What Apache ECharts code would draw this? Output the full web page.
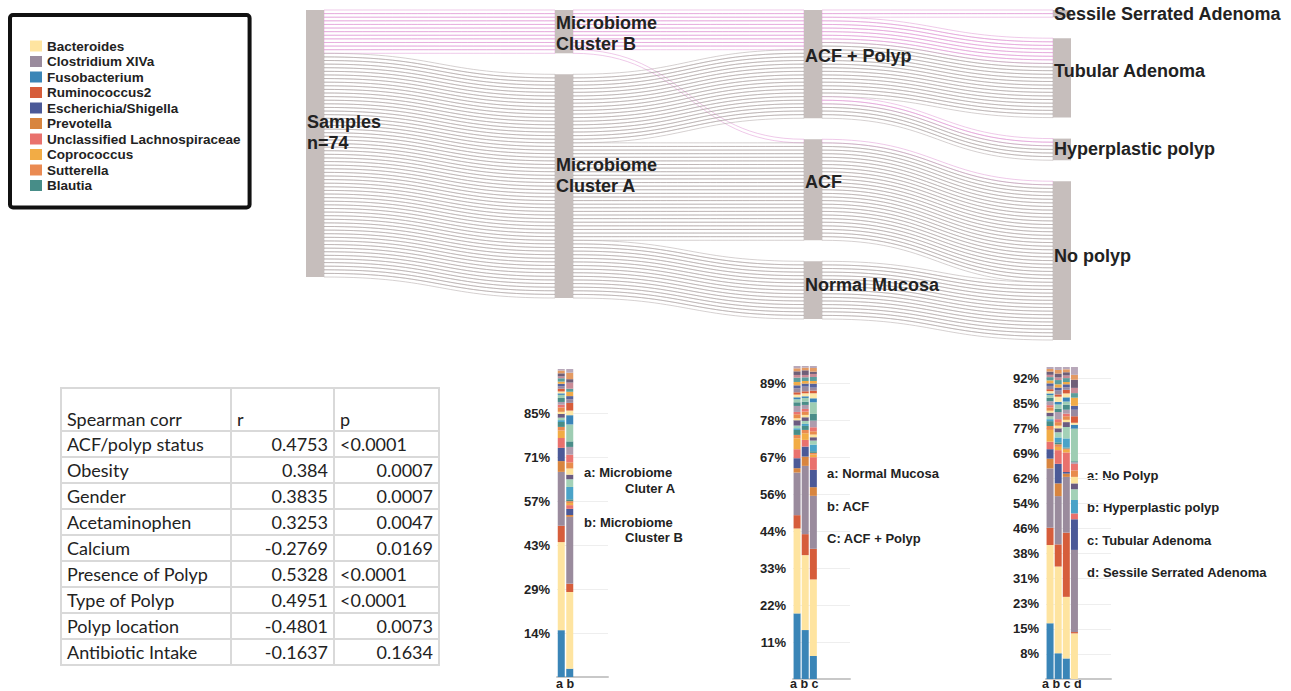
<!DOCTYPE html>
<html>
<head>
<meta charset="utf-8">
<script src="https://cdn.jsdelivr.net/npm/echarts@6/dist/echarts.min.js"></script>
<style>
html, body { margin: 0; padding: 0; background: #fff; }
#chart { position: absolute; left: 0; top: 0; width: 1291px; height: 691px; }
#corr { position: absolute; left: 60px; top: 387px; border-collapse: collapse; table-layout: fixed;
        font-family: Lato, "Open Sans", sans-serif; font-size: 18px; color: #222; }
#corr td { border: 2px solid #d9d9d9; height: 24px; padding: 0 5px; line-height: 22px; white-space: nowrap; overflow: hidden; }
#corr tr.head td { height: 41px; vertical-align: bottom; }
#corr td.num { text-align: right; }
</style>
</head>
<body>
<div id="chart"></div>
<table id="corr"></table>
<script>
// ---- sankey : one link per sample, followed through the stages ----
var stageNodes = ['Samples\nn=74', 'Microbiome\nCluster B', 'Microbiome\nCluster A',
	'ACF + Polyp', 'ACF', 'Normal Mucosa',
	'Sessile Serrated Adenoma', 'Tubular Adenoma', 'Hyperplastic polyp', 'No polyp'];
var pathCluster = ['Microbiome\nCluster B', 'Microbiome\nCluster B', 'Microbiome\nCluster B', 'Microbiome\nCluster B',
	'Microbiome\nCluster A', 'Microbiome\nCluster A', 'Microbiome\nCluster A', 'Microbiome\nCluster A'];
var pathTissue = ['ACF + Polyp', 'ACF + Polyp', 'ACF + Polyp', 'ACF', 'ACF + Polyp', 'ACF + Polyp', 'ACF', 'Normal Mucosa'];
var pathType = ['Sessile Serrated Adenoma', 'Tubular Adenoma', 'Hyperplastic polyp', 'No polyp',
	'Tubular Adenoma', 'Hyperplastic polyp', 'No polyp', 'No polyp'];
var pathCount = [2, 7, 2, 1, 15, 4, 27, 16];

// ---- stacked bars (relative abundance, % read against each axis) ----
var taxa = ['Fusobacterium', 'Bacteroides', 'Ruminococcus2', 'Clostridium XIVa', 'Prevotella',
	'Escherichia/Shigella', 'Unclassified Lachnospiraceae', 'Coprococcus', 'Sutterella', 'Blautia',
	'Other 1', 'Other 2', 'Other 3', 'Other 4', 'Other 5', 'Other 6', 'Other 7', 'Other 8', 'Other 9', 'Other 10',
	'Other 11', 'Other 12', 'Other 13', 'Other 14', 'Other 15', 'Other 16', 'Other 17', 'Other 18', 'Other 19', 'Other 20'];
var taxaColors = ['#3a85b7', '#fee4a0', '#d65d3b', '#9a8b9d', '#d8853f',
	'#4b5997', '#e9716d', '#f2ac45', '#ea8a52', '#478d88',
	'#4aa3c8', '#a3d1b7', '#6b5b80', '#fde39a', '#e88b4c', '#ea7470', '#ae9cae', '#4a8d89', '#9ecdb3', '#3a85b9',
	'#fde7a6', '#d75c3a', '#988aa0', '#56629d', '#f1ab48', '#5b9d9c', '#c98b96', '#6f5f78', '#e39a63', '#b8a8ba'];
var legendOrder = ['Bacteroides', 'Clostridium XIVa', 'Fusobacterium', 'Ruminococcus2', 'Escherichia/Shigella',
	'Prevotella', 'Unclassified Lachnospiraceae', 'Coprococcus', 'Sutterella', 'Blautia'];

var clusterCats = ['a', 'b'];
var cluA = [15.2, 28.6, 5.3, 17.5, 3.5, 4.3, 3.2, 2.4, 1.2, 1.6, 0.6, 0.8, 1.2, 0.7, 1.4, 0.9, 0.9, 1.3, 1.0, 0.5, 0.6, 0.9, 0.8, 0.8, 0.7, 1.1, 0.6, 1.0, 0.9, 0.5];
var cluB = [2.7, 24.9, 2.7, 21.7, 0.6, 2.0, 1.2, 0.7, 0.6, 0.6, 4.0, 2.5, 1.5, 2.0, 2.0, 2.5, 2.5, 1.8, 5.5, 3.0, 1.5, 2.5, 1.2, 1.0, 1.4, 1.0, 2.0, 1.1, 2.1, 1.2];
var clusterTicks = ['14%', '29%', '43%', '57%', '71%', '85%'];

var tissueCats = ['a', 'b', 'c'];
var tisNM = [19.7, 25.5, 4.0, 12.8, 1.3, 3.0, 2.7, 3.3, 1.0, 1.5, 0.5, 0.8, 1.6, 0.6, 1.2, 0.7, 1.8, 1.1, 0.9, 0.6, 0.8, 0.7, 1.2, 0.9, 1.0, 1.3, 0.8, 1.1, 0.9, 0.7];
var tisACF = [14.7, 22.5, 6.3, 20.5, 2.8, 3.0, 2.0, 2.0, 1.0, 1.2, 0.6, 0.9, 1.1, 0.7, 1.0, 0.8, 1.2, 1.0, 1.1, 0.5, 0.9, 0.6, 1.4, 0.9, 0.8, 1.1, 0.7, 1.4, 0.8, 0.5];
var tisAP = [6.9, 23.0, 9.2, 15.9, 2.6, 5.2, 3.8, 0.8, 0.5, 0.5, 2.0, 1.2, 1.0, 0.8, 1.0, 1.2, 2.0, 2.0, 3.5, 1.2, 1.5, 0.8, 0.9, 1.2, 0.8, 1.2, 0.9, 0.7, 1.1, 0.6];
var tissueTicks = ['11%', '22%', '33%', '44%', '56%', '67%', '78%', '89%'];

var typeCats = ['a', 'b', 'c', 'd'];
var typNo = [17.1, 24.0, 5.3, 18.2, 3.0, 2.9, 2.3, 3.6, 1.2, 1.5, 0.6, 0.9, 1.1, 0.6, 1.0, 0.7, 1.2, 1.1, 0.8, 0.5, 0.7, 0.6, 1.0, 0.8, 0.9, 1.0, 0.7, 1.0, 0.8, 0.6];
var typHP = [7.9, 26.6, 6.8, 14.8, 3.9, 6.0, 4.2, 1.0, 0.8, 0.6, 1.5, 1.6, 1.2, 0.8, 1.1, 0.9, 2.2, 1.0, 1.3, 0.8, 1.6, 0.7, 1.2, 0.9, 1.0, 1.3, 0.8, 1.2, 1.1, 0.9];
var typTA = [6.3, 18.9, 19.7, 17.1, 1.0, 0.5, 6.0, 0.8, 0.4, 0.3, 2.8, 3.5, 1.5, 0.7, 1.1, 0.8, 1.2, 1.5, 1.0, 1.3, 1.2, 1.1, 0.8, 0.9, 0.7, 1.2, 0.8, 1.0, 0.9, 0.7];
var typSSA = [0, 14.0, 0.4, 25.2, 0, 9.4, 1.8, 0, 0, 0, 4.1, 3.3, 1.8, 2.0, 2.0, 2.0, 0.5, 0.3, 10.0, 1.2, 0.6, 2.0, 2.0, 1.2, 2.5, 1.4, 1.6, 2.5, 1.5, 2.4];
var typeTicks = ['8%', '15%', '23%', '31%', '38%', '46%', '54%', '62%', '69%', '77%', '85%', '92%'];

// ---- Spearman table ----
var corrVars = ['ACF/polyp status', 'Obesity', 'Gender', 'Acetaminophen', 'Calcium',
	'Presence of Polyp', 'Type of Polyp', 'Polyp location', 'Antibiotic Intake'];
var corrR = ['0.4753', '0.384', '0.3835', '0.3253', '-0.2769', '0.5328', '0.4951', '-0.4801', '-0.1637'];
var corrP = ['<0.0001', '0.0007', '0.0007', '0.0047', '0.0169', '<0.0001', '<0.0001', '0.0073', '0.1634'];

var FONT = '"Liberation Sans", Arial, sans-serif';
var PINK = '#df92d3';
var GRAY = '#aaa1a1';
// 标签在节点中的上下微调(像素)
var labelNudge = { 'Samples\nn=74': -11, 'Microbiome\nCluster B': 2, 'Microbiome\nCluster A': -11,
	'ACF + Polyp': -8, 'ACF': -8, 'Normal Mucosa': -5, 'Tubular Adenoma': -7, 'No polyp': -5 };

// 表格
(function () {
	var table = document.getElementById('corr');
	var html = '<colgroup><col style="width:170px"><col style="width:103px"><col style="width:105px"></colgroup>';
	html += '<tr class="head"><td>Spearman corr</td><td>r</td><td>p</td></tr>';
	for (var i = 0; i < corrVars.length; i++) {
		var pCls = corrP[i].charAt(0) == '<' ? '' : 'num';
		html += '<tr><td>' + corrVars[i].replace('<', '&lt;') + '</td><td class="num">' + corrR[i] +
			'</td><td class="' + pCls + '">' + corrP[i].replace('<', '&lt;') + '</td></tr>';
	}
	table.innerHTML = html;
})();

// sankey links, 3 per sample
var links = [];
for (var i = 0; i < pathCount.length; i++) {
	var col = pathCluster[i].indexOf('Cluster B') >= 0 ? PINK : GRAY;
	for (var k = 0; k < pathCount[i]; k++) {
		var ls = { borderColor: col };
		links.push({ source: stageNodes[0], target: pathCluster[i], value: 1, lineStyle: ls });
		links.push({ source: pathCluster[i], target: pathTissue[i], value: 1, lineStyle: ls });
		links.push({ source: pathTissue[i], target: pathType[i], value: 1, lineStyle: ls });
	}
}

// the three bar panels (catX: where the "a b c" caption starts)
var panels = [
	{ cats: clusterCats, bars: [cluA, cluB], ticks: clusterTicks, slots: 6, catX: 556,
		grid: { left: 557, top: 369, width: 51, height: 308 } },
	{ cats: tissueCats, bars: [tisNM, tisACF, tisAP], ticks: tissueTicks, slots: 7, catX: 790,
		grid: { left: 793, top: 346, width: 57, height: 333 } },
	{ cats: typeCats, bars: [typNo, typHP, typTA, typSSA], ticks: typeTicks, slots: 8, catX: 1042,
		grid: { left: 1046, top: 353, width: 65, height: 326 } }
];

function legendText(x, y, s, size) {
	return { type: 'text', x: x, y: y, style: { text: s, font: 'bold ' + (size || 13) + 'px ' + FONT, fill: '#222', verticalAlign: 'middle' } };
}

var grids = [], xAxes = [], yAxes = [], series = [], captions = [];
panels.forEach(function (p, g) {
	grids.push(p.grid);
	var cats = p.cats.slice();
	while (cats.length < p.slots) cats.push('');
	var step = 100 / (p.ticks.length + 1);
	xAxes.push({
		type: 'category', gridIndex: g, data: cats,
		axisTick: { show: false },
		axisLine: { lineStyle: { color: '#c8c8c8', width: 2 } },
		axisLabel: { show: false }
	});
	// 类别标签原图是一串 "a b c"，字距比柱子宽
	captions.push(legendText(p.catX, 684, p.cats.join(' '), 12.5));
	yAxes.push({
		type: 'value', gridIndex: g, min: 0, max: 100, interval: step,
		axisLine: { show: false }, axisTick: { show: false },
		splitLine: { showMaxLine: false, lineStyle: { color: '#eeeeee' } },
		axisLabel: {
			margin: 7, fontFamily: FONT, fontWeight: 'bold', fontSize: 13, color: '#222',
			formatter: (function (ticks, st) {
				return function (v) { var k = Math.round(v / st); return ticks[k - 1] || ''; };
			})(p.ticks, step)
		}
	});
	for (var t = 0; t < taxa.length; t++) {
		series.push({
			type: 'bar', name: taxa[t], xAxisIndex: g, yAxisIndex: g, stack: 'panel' + g,
			barWidth: 7, itemStyle: { color: taxaColors[t] },
			emphasis: { disabled: true },
			data: p.bars.map(function (b) { return b[t]; })
		});
	}
});

series.push({
	type: 'sankey',
	left: 306, top: 10, right: 220, bottom: 351,
	nodeWidth: 18, nodeGap: 21, layoutIterations: 0, nodeAlign: 'justify', draggable: false,
	emphasis: { disabled: true },
	itemStyle: { color: '#c6bebc', borderWidth: 0 },
	label: { position: 'insideLeft', distance: 1, fontFamily: FONT, fontWeight: 'bold', fontSize: 18, lineHeight: 21, color: '#222' },
	lineStyle: { color: 'rgba(0,0,0,0)', opacity: 1, curveness: 0.5, borderWidth: 0.5 },
	data: stageNodes.map(function (n) {
		return { name: n, label: { offset: [0, labelNudge[n] || 0] } };
	}),
	links: links
});

var option = {
	animation: false,
	backgroundColor: '#fff',
	legend: {
		data: legendOrder, orient: 'vertical', left: 10, top: 15,
		padding: [24, 9, 15, 20], itemWidth: 12, itemHeight: 11, itemGap: 1.5,
		icon: 'rect', selectedMode: false,
		borderColor: '#111', borderWidth: 4, borderRadius: 3,
		textStyle: { fontFamily: FONT, fontWeight: 'bold', fontSize: 13.5, color: '#222' }
	},
	grid: grids,
	xAxis: xAxes,
	yAxis: yAxes,
	series: series,
	graphic: captions.concat([
		legendText(584, 472, 'a: Microbiome'), legendText(625, 488, 'Cluter A'),
		legendText(584, 522, 'b: Microbiome'), legendText(625, 537, 'Cluster B'),
		legendText(827, 473, 'a: Normal Mucosa'), legendText(827, 506, 'b: ACF'), legendText(827, 538, 'C: ACF + Polyp'),
		legendText(1087, 475, 'a: No Polyp'), legendText(1087, 507, 'b: Hyperplastic polyp'),
		legendText(1087, 540, 'c: Tubular Adenoma'), legendText(1087, 572, 'd: Sessile Serrated Adenoma')
	])
};

var myChart = echarts.init(document.getElementById('chart'), null, { renderer: 'svg' });
myChart.setOption(option);
</script>
</body>
</html>
